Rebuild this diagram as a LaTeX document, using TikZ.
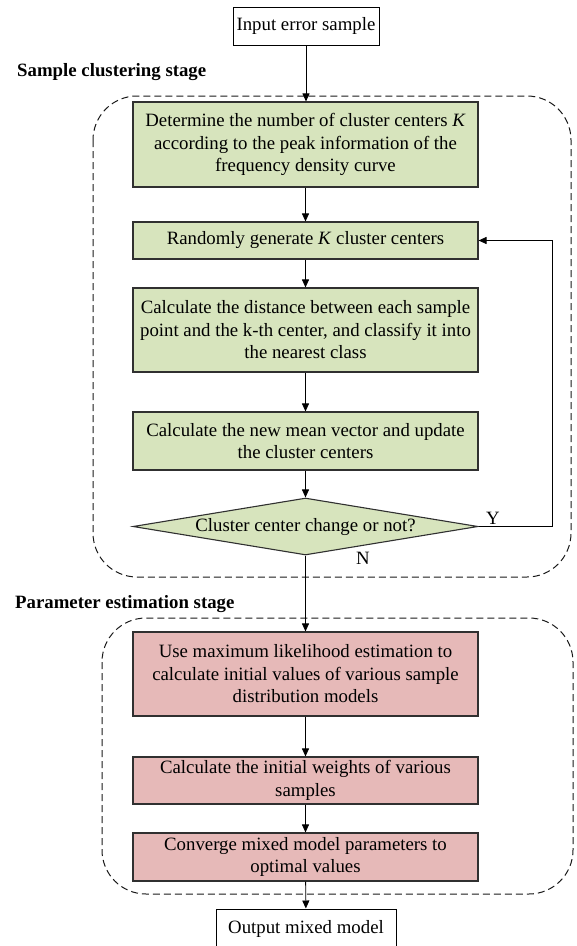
\documentclass[tikz,border=0pt]{standalone}
\usepackage{fontspec}
\setmainfont{Liberation Serif}
\usetikzlibrary{arrows.meta,shapes.geometric}
\definecolor{gfill}{HTML}{D7E4BD}
\definecolor{rfill}{HTML}{E6B9B8}
\definecolor{edge}{HTML}{303030}
\definecolor{dashc}{HTML}{1A1A1A}
\tikzset{
  txt/.style={font=\fontsize{18.8}{22.5}\selectfont, align=center, inner sep=0pt},
  gbox/.style={txt, draw=edge, line width=1.1pt, fill=gfill, minimum width=345pt},
  rbox/.style={txt, draw=edge, line width=1.1pt, fill=rfill, minimum width=345pt},
  wbox/.style={txt, draw=black, line width=1pt, fill=white},
  arr/.style={-{Triangle[length=8pt,width=7pt]}, line width=0.9pt, black},
  stage/.style={dash pattern=on 7pt off 4pt, draw=dashc, line width=1pt, rounded corners=44pt},
  lbl/.style={font=\fontsize{18.8}{20}\selectfont\bfseries, anchor=west, inner sep=0pt},
  yn/.style={font=\fontsize{18.8}{20}\selectfont, inner sep=0pt}
}
\begin{document}
\begin{tikzpicture}[x=1pt,y=-1pt]
\useasboundingbox (0,0) rectangle (577,946);
% stage frames
\draw[stage] (93,96) rectangle (571,577);
\draw[stage] (102,618) rectangle (573,894);
\node[lbl] (l1) at (17,72) {Sample clustering stage};
\node[lbl] (l2) at (15,604) {Parameter estimation stage};
% nodes
\node[wbox, minimum width=146pt, minimum height=38pt] (in) at (306,26) {Input error sample};
\node[gbox, minimum height=85pt] (b1) at (305.5,144.5) {Determine the number of cluster centers \textit{K}\\according to the peak information of the\\frequency density curve};
\node[gbox, minimum height=37pt] (b2) at (305.5,240.5) {Randomly generate \textit{K} cluster centers};
\node[gbox, minimum height=84pt] (b3) at (305.5,330) {Calculate the distance between each sample\\point and the k-th center, and classify it into\\the nearest class};
\node[gbox, minimum height=58pt] (b4) at (305.5,441) {Calculate the new mean vector and update\\the cluster centers};
\node[txt, shape=diamond, aspect=6.05, draw=edge, line width=1.1pt, fill=gfill, minimum width=345pt, minimum height=57pt] (d) at (305.5,526.5) {Cluster center change or not?};
\node[rbox, minimum height=84pt] (b5) at (305.5,674) {Use maximum likelihood estimation to\\calculate initial values of various sample\\distribution models};
\node[rbox, minimum height=47pt] (b6) at (305.5,780.5) {Calculate the initial weights of various\\samples};
\node[rbox, minimum height=48pt] (b7) at (305.5,857) {Converge mixed model parameters to\\optimal values};
\node[wbox, minimum width=180pt, minimum height=40pt] (out) at (306,929) {Output mixed model};
\node[yn] (y) at (493,518) {Y};
\node[yn] (n) at (363,558) {N};
\coordinate (loop) at (552,0);
% connectors
\draw[arr] (in.south) -- (in.south |- b1.north);
\draw[arr] (b1) -- (b2);
\draw[arr] (b2) -- (b3);
\draw[arr] (b3) -- (b4);
\draw[arr] (b4.south) -- (d.north);
\draw[arr] (d.east) -- (d.east -| loop) |- (b2.east);
\draw[arr] (d.south) -- (b5.north);
\draw[arr] (b5) -- (b6);
\draw[arr] (b6) -- (b7);
\draw[arr] (b7) -- (out);
\end{tikzpicture}
\end{document}
